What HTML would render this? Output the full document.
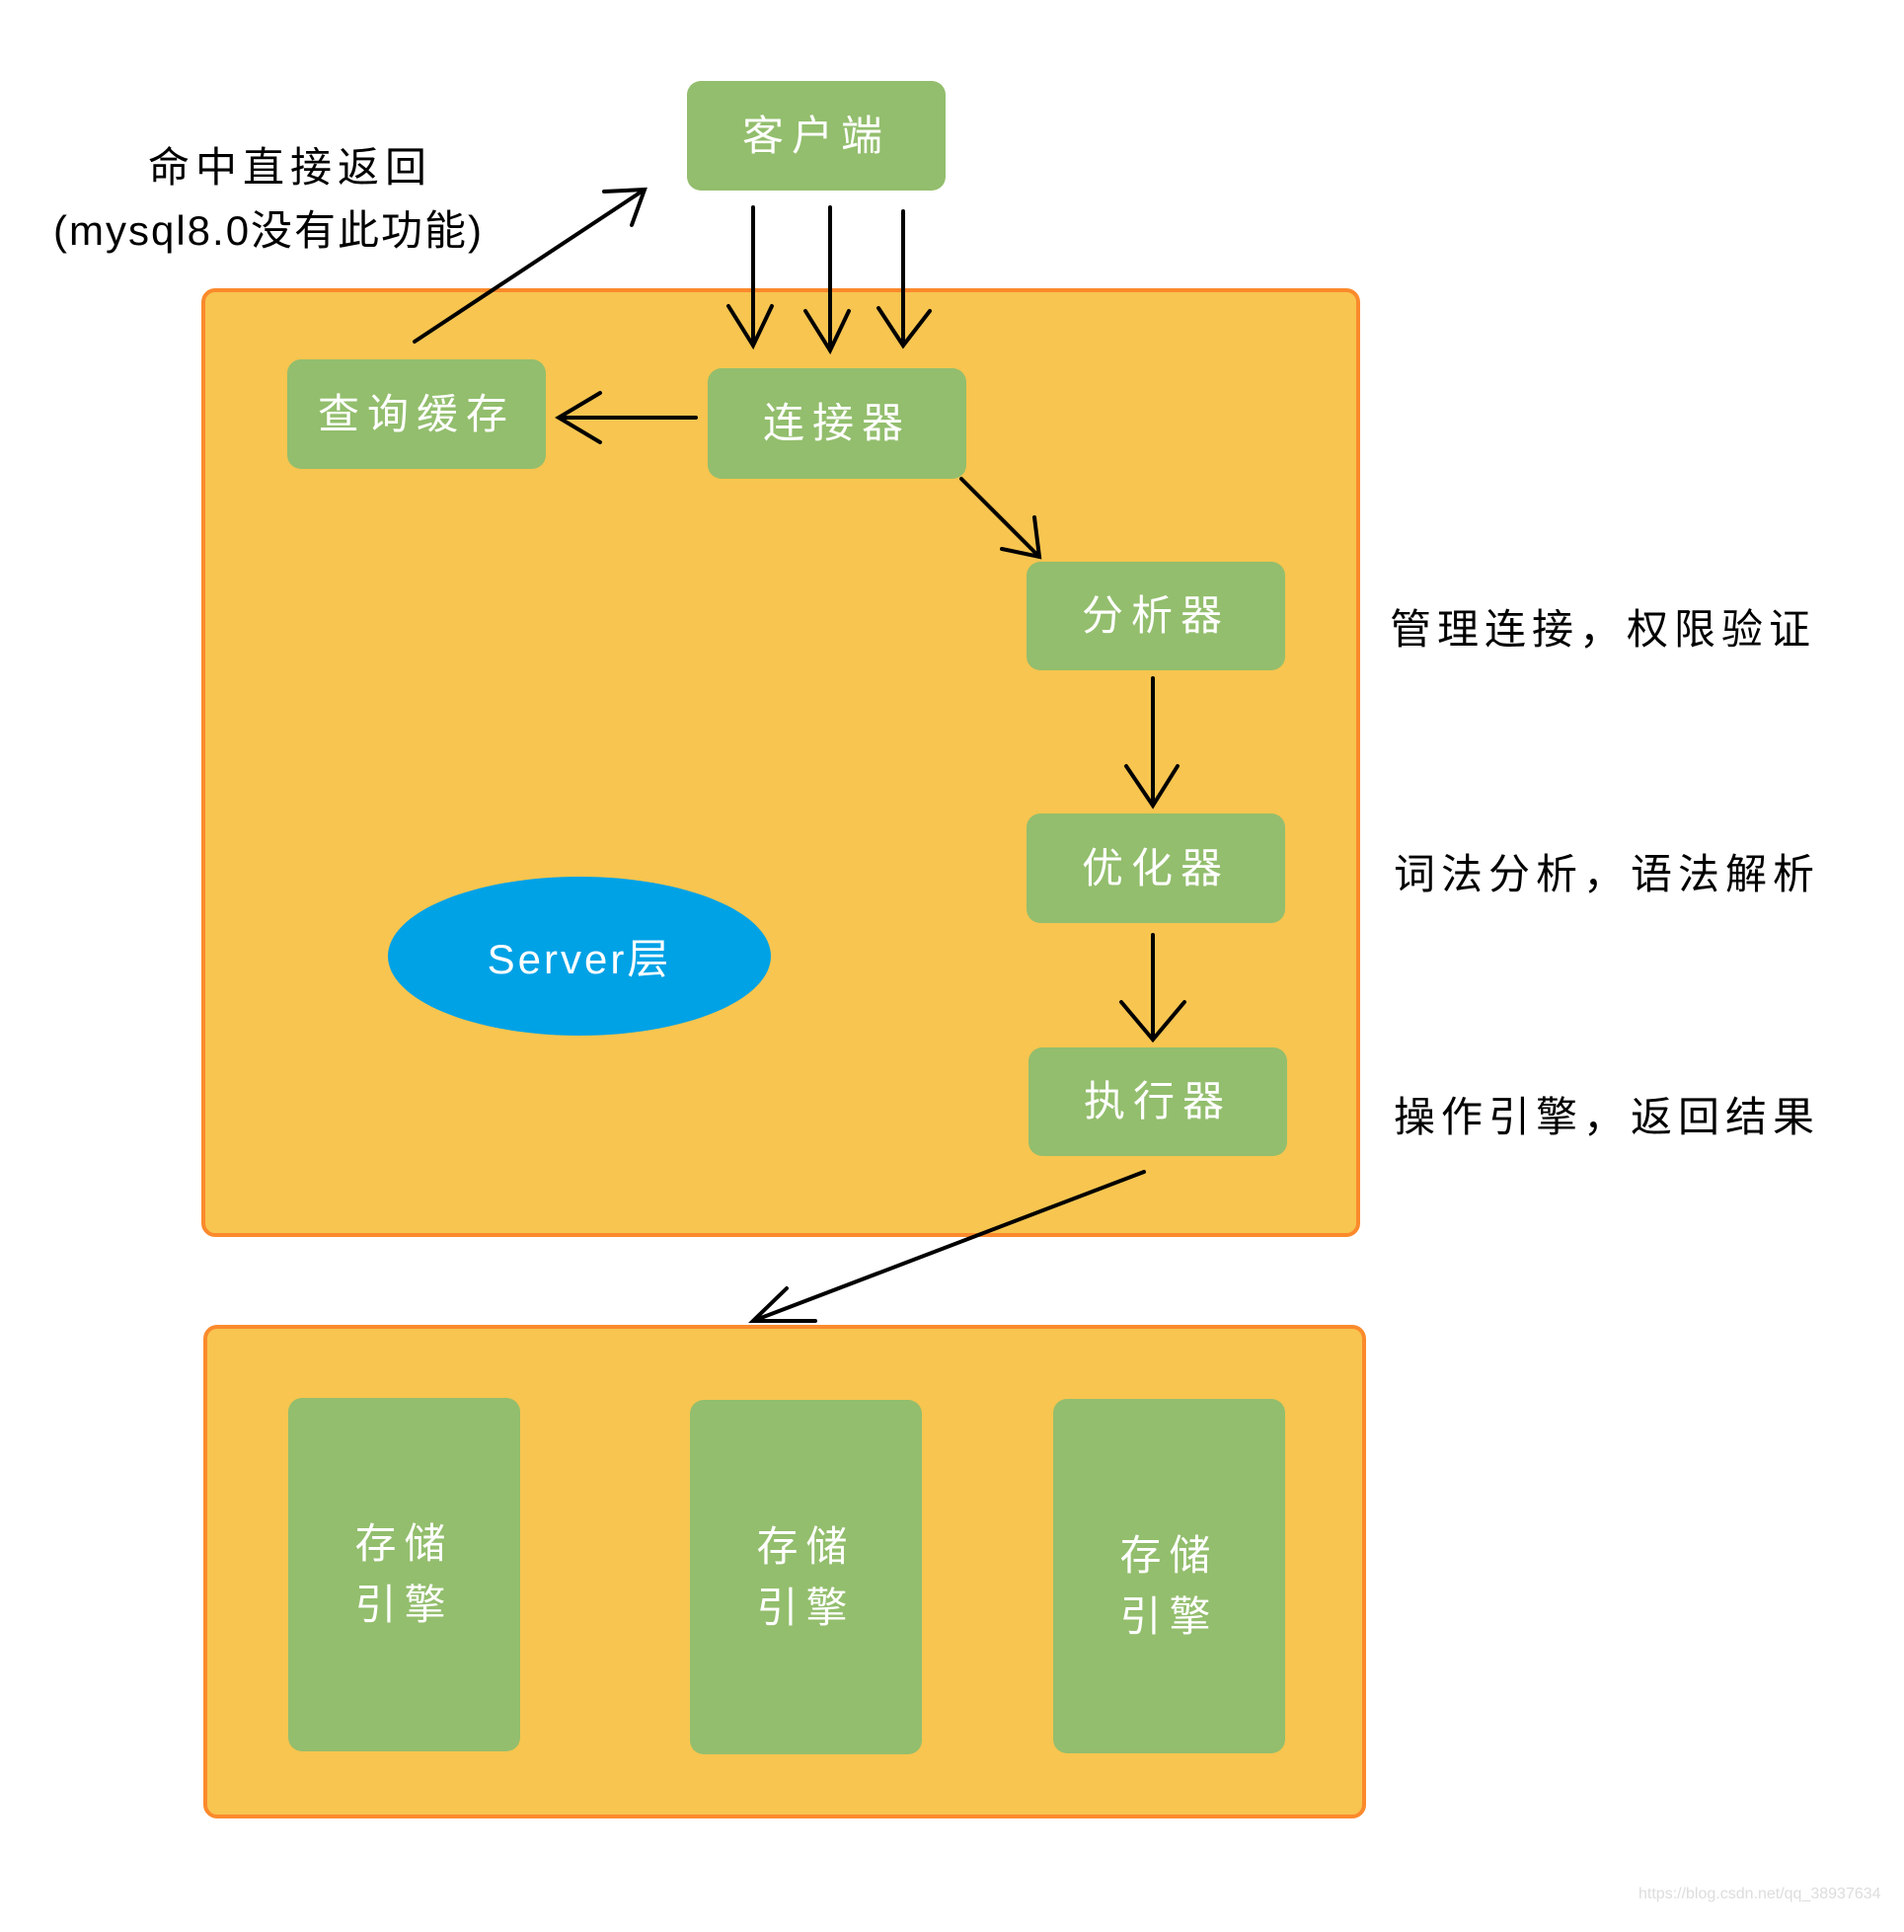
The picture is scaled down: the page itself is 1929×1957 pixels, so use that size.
<!DOCTYPE html>
<html><head><meta charset="utf-8"><style>
body{margin:0;width:1929px;height:1957px;background:#fff;position:relative;overflow:hidden;font-family:"Liberation Sans","Noto Sans CJK SC",sans-serif}
.big{position:absolute;background:#f7c550;border:4px solid #fb8a2c;border-radius:14px;box-sizing:border-box}
.g{position:absolute;background:#93be6d;border-radius:14px;color:#fff;font-size:42px;display:flex;align-items:center;justify-content:center;letter-spacing:8px;text-align:center;line-height:62px}
.t{position:absolute;font-size:42px;color:#000;letter-spacing:6px;white-space:nowrap}
</style></head><body>
<div class="big" style="left:204px;top:292px;width:1174px;height:961px"></div>
<div class="big" style="left:206px;top:1342px;width:1178px;height:500px"></div>
<div class="g" style="left:696px;top:82px;width:262px;height:111px">客户端</div>
<div class="g" style="left:291px;top:364px;width:262px;height:111px">查询缓存</div>
<div class="g" style="left:717px;top:373px;width:262px;height:112px">连接器</div>
<div class="g" style="left:1040px;top:569px;width:262px;height:110px">分析器</div>
<div class="g" style="left:1040px;top:824px;width:262px;height:111px">优化器</div>
<div class="g" style="left:1042px;top:1061px;width:262px;height:110px">执行器</div>
<div class="g" style="left:292px;top:1416px;width:235px;height:358px">存储<br>引擎</div>
<div class="g" style="left:699px;top:1418px;width:235px;height:359px">存储<br>引擎</div>
<div class="g" style="left:1067px;top:1417px;width:235px;height:359px;padding-top:20px;box-sizing:border-box">存储<br>引擎</div>
<div style="position:absolute;left:393px;top:888px;width:388px;height:161px;border-radius:50%;background:#00a2e6;color:#fff;font-size:42px;display:flex;align-items:center;justify-content:center;letter-spacing:3px">Server层</div>
<div class="t" style="left:150px;top:136px">命中直接返回</div>
<div class="t" style="left:54px;top:200px;letter-spacing:2px">(mysql8.0没有此功能)</div>
<div class="t" style="left:1408px;top:604px">管理连接，权限验证</div>
<div class="t" style="left:1412px;top:852px">词法分析，语法解析</div>
<div class="t" style="left:1412px;top:1098px">操作引擎，返回结果</div>
<svg width="1929" height="1957" style="position:absolute;left:0;top:0" fill="none" stroke="#000" stroke-width="4" stroke-linecap="round">
<path d="M420 346L653 192M612 194L653 192L640 228"/>
<path d="M763 210V350M738 310L763 350L782 310"/>
<path d="M841 210V355M816 315L841 355L860 315"/>
<path d="M915 214V350M890 312L915 350L942 315"/>
<path d="M705 423H566M608 398L566 423L608 448"/>
<path d="M974 485L1053 564M1048 524L1053 564L1015 556"/>
<path d="M1168 687V816M1141 776L1168 816L1193 776"/>
<path d="M1168 947V1053M1136 1015L1168 1053L1200 1015"/>
<path d="M1159 1187L763 1338M797 1305L763 1338L826 1338"/>
</svg>
<div style="position:absolute;left:1660px;top:1910px;font-size:16px;color:#ddd">https://blog.csdn.net/qq_38937634</div>
</body></html>
